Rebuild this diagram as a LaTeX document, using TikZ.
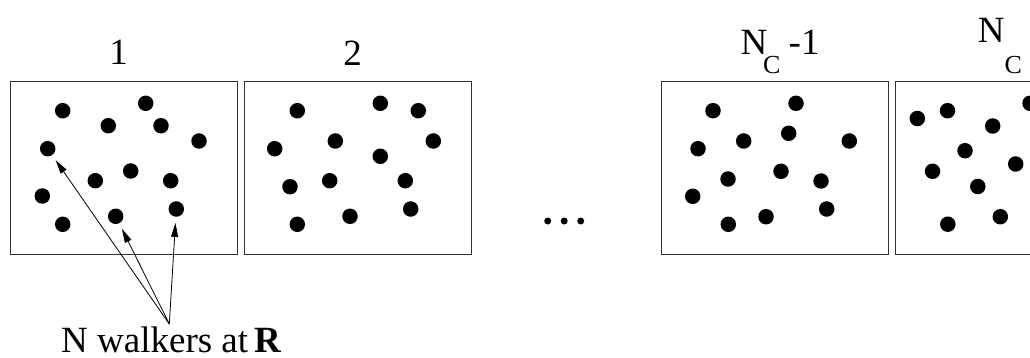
\documentclass[tikz,border=0pt]{standalone}
\usepackage{fontspec}
\setmainfont{Liberation Serif}
\usetikzlibrary{arrows.meta}
\begin{document}
\begin{tikzpicture}[x=1pt,y=-1pt,
  cell/.style={draw=black!80, line width=1pt, minimum width=227pt, minimum height=173pt, anchor=north west, inner sep=0pt},
  walker/.style={circle, fill=black, minimum size=15.5pt, inner sep=0pt},
  dotsym/.style={circle, fill=black, minimum size=7pt, inner sep=0pt},
  lbl/.style={inner sep=0pt, font=\fontsize{37}{44}\selectfont},
  sublbl/.style={inner sep=0pt, anchor=base west, font=\fontsize{26}{30}\selectfont},
  pointer/.style={-{Triangle[length=14pt,width=7pt]}, line width=0.8pt, shorten >=6pt}]
\useasboundingbox (0,0) rectangle (1030,358);
\clip (0,0) rectangle (1030,358);
% boxes
\node[cell] (box1) at (10,81) {};
\node[cell] (box2) at (244,81) {};
\node[cell] (box3) at (660.5,81) {};
\node[cell] (box4) at (895,81) {};
% walkers box 1
\foreach \x/\y [count=\i] in {62.7/110.7,145.7/103.3,108.3/125.7,161/125.7,199/141,47.7/148.7,130.7/171,95.3/180.7,170.7/180.7,42.3/196,176.3/209,115.7/216.3,62.7/224.3}
  \node[walker] (a\i) at (\x,\y) {};
% walkers box 2
\foreach \x/\y [count=\i] in {297.3/110.7,380.3/103.3,418.3/110.7,335.3/141,433.3/141,274.7/148.7,380.3/156.3,290/186.7,329.7/180.7,405.3/180.7,410.7/209,350/216.3,297.3/224.3}
  \node[walker] (b\i) at (\x,\y) {};
% walkers box 3
\foreach \x/\y [count=\i] in {713/110.7,796/103.3,743.7/141,788.7/133.3,849.3/141,698/148.7,728/179,781/171.3,821/181,692.7/196.3,826.7/209,766/216.7,728.3/224.3}
  \node[walker] (c\i) at (\x,\y) {};
% walkers box 4
\foreach \x/\y [count=\i] in {917.3/118.5,947.5/110.7,1030/103.3,992.7/126,965/150.7,1015.7/164,932.5/171.3,977.8/186.5,1000.3/216.7,947.8/224.2}
  \node[walker] (d\i) at (\x,\y) {};
% ellipsis
\foreach \x [count=\i] in {547.7,564.2,580.7}
  \node[dotsym] (e\i) at (\x,221) {};
% labels
\node[lbl, anchor=base] (l1) at (118.5,65) {1};
\node[lbl, anchor=base] (l2) at (352.7,66) {2};
\node[lbl, anchor=base west] (l3n) at (740.5,55) {N};
\node[sublbl] (l3c) at (763,74) {C};
\node[lbl, anchor=base west] (l3m) at (788.5,55) {-1};
\node[lbl, anchor=base west] (l4n) at (977.7,43) {N};
\node[sublbl] (l4c) at (1004.5,74) {C};
% caption and pointers
\node[lbl, anchor=base west] (cap) at (61,352) {N walkers at\,\textbf{R}};
\coordinate (w) at (169.3,324);
\draw[pointer] (w) -- (a6);
\draw[pointer] (w) -- (a12);
\draw[pointer] (w) -- (a11);
\end{tikzpicture}
\end{document}
